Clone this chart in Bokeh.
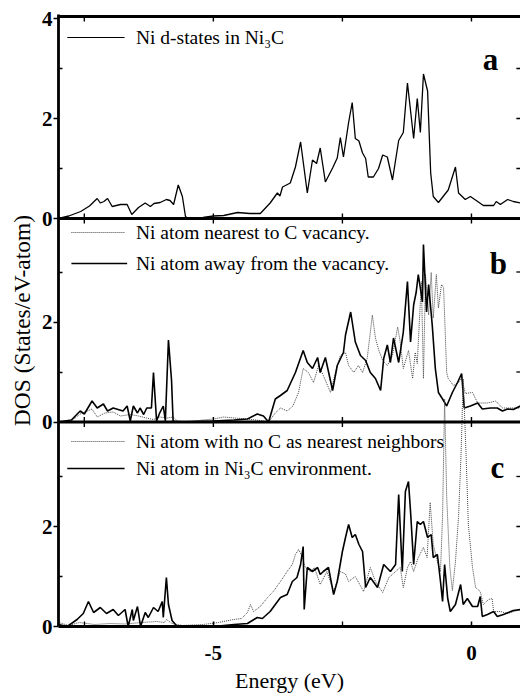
from bokeh.plotting import figure
from bokeh.models import Range1d, FixedTicker
from bokeh.embed import file_html
from bokeh.resources import INLINE
from bokeh.core.properties import value

# ---------------- data (Energy in eV, DOS in States/eV-atom) ----------------
energy_a = [-8.00, -7.80, -7.57, -7.40, -7.25, -7.19, -7.12, -7.05, -6.96, -6.80, -6.67, -6.58,
            -6.45, -6.32, -6.22, -6.15, -6.03, -5.91, -5.84, -5.77, -5.68, -5.60, -5.54, -5.50,
            -5.20, -5.00, -4.80, -4.53, -4.30, -4.09, -3.90, -3.76, -3.71, -3.66, -3.51, -3.41,
            -3.31, -3.18, -3.08, -3.00, -2.93, -2.83, -2.69, -2.60, -2.54, -2.48, -2.38, -2.31,
            -2.25, -2.18, -2.11, -2.05, -2.00, -1.90, -1.80, -1.72, -1.63, -1.53, -1.41, -1.32,
            -1.24, -1.12, -1.05, -0.99, -0.93, -0.85, -0.79, -0.74, -0.64, -0.45, -0.31, -0.25,
            -0.12, -0.02, 0.12, 0.23, 0.43, 0.48, 0.56, 0.70, 0.81, 0.95, 1.00]
dos_a = [0.00, 0.05, 0.14, 0.25, 0.40, 0.31, 0.34, 0.40, 0.24, 0.28, 0.28, 0.08,
         0.22, 0.31, 0.24, 0.30, 0.32, 0.38, 0.36, 0.28, 0.67, 0.44, 0.04, 0.00,
         0.02, 0.05, 0.06, 0.12, 0.10, 0.10, 0.31, 0.51, 0.45, 0.63, 0.71, 1.03,
         1.53, 0.51, 1.17, 1.10, 1.41, 0.73, 1.01, 1.21, 1.62, 1.23, 1.92, 2.32,
         1.60, 1.55, 1.31, 1.20, 0.83, 0.83, 1.00, 1.27, 1.23, 0.77, 1.56, 1.72,
         2.71, 1.60, 2.40, 1.72, 2.89, 2.55, 0.91, 0.44, 0.32, 0.57, 1.03, 0.51,
         0.38, 0.44, 0.34, 0.26, 0.26, 0.34, 0.28, 0.38, 0.34, 0.31, 0.30]

energy_b_away = [-8.00, -7.75, -7.58, -7.50, -7.35, -7.25, -7.13, -7.05, -6.94, -6.75, -6.67, -6.61,
                 -6.55, -6.47, -6.42, -6.35, -6.29, -6.20, -6.16, -6.10, -6.04, -5.97, -5.93, -5.87,
                 -5.81, -5.78, -5.70, -5.00, -4.60, -4.34, -4.15, -4.03, -3.93, -3.80, -3.70, -3.57,
                 -3.41, -3.26, -3.18, -3.08, -2.98, -2.93, -2.83, -2.69, -2.60, -2.48, -2.44, -2.34,
                 -2.25, -2.15, -2.05, -1.96, -1.86, -1.76, -1.70, -1.63, -1.57, -1.51, -1.41, -1.32,
                 -1.24, -1.18, -1.12, -1.07, -1.03, -0.95, -0.93, -0.87, -0.83, -0.76, -0.70, -0.64,
                 -0.56, -0.48, -0.37, -0.27, -0.19, -0.14, -0.02, 0.12, 0.21, 0.37, 0.50, 0.60,
                 0.70, 0.81, 0.95, 1.00]
dos_b_away = [0.00, 0.04, 0.22, 0.16, 0.42, 0.28, 0.36, 0.22, 0.28, 0.22, 0.32, 0.02,
              0.32, 0.18, 0.28, 0.15, 0.28, 0.28, 0.99, 0.02, 0.18, 0.32, 0.02, 1.64,
              0.83, 0.02, 0.00, 0.02, 0.04, 0.06, 0.16, 0.12, 0.00, 0.46, 0.53, 0.63,
              0.99, 1.43, 1.19, 1.07, 1.29, 0.99, 1.29, 0.63, 1.13, 1.39, 1.74, 2.20,
              1.60, 1.33, 1.23, 0.99, 0.87, 0.63, 1.27, 1.54, 1.19, 1.68, 1.19, 1.80,
              2.81, 1.60, 2.34, 2.60, 2.95, 2.40, 3.55, 2.20, 2.75, 1.94, 1.07, 0.59,
              0.46, 0.32, 0.59, 0.79, 0.97, 0.28, 0.32, 0.38, 0.26, 0.28, 0.28, 0.22,
              0.26, 0.25, 0.32, 0.30]

energy_b_near = [-8.00, -7.75, -7.58, -7.35, -7.25, -7.10, -6.94, -6.80, -6.61, -6.45, -6.30, -6.16,
                 -6.04, -5.89, -5.78, -5.70, -5.50, -5.20, -4.99, -4.80, -4.60, -4.34, -4.10, -3.93,
                 -3.80, -3.70, -3.57, -3.46, -3.35, -3.26, -3.16, -3.06, -2.96, -2.87, -2.73, -2.60,
                 -2.54, -2.44, -2.38, -2.28, -2.19, -2.11, -2.02, -1.92, -1.86, -1.80, -1.72, -1.63,
                 -1.53, -1.43, -1.38, -1.32, -1.22, -1.14, -1.09, -1.05, -0.97, -0.93, -0.89, -0.83,
                 -0.78, -0.74, -0.68, -0.64, -0.58, -0.54, -0.48, -0.45, -0.35, -0.25, -0.19, -0.12,
                 0.02, 0.12, 0.31, 0.47, 0.60, 0.95, 1.00]
dos_b_near = [0.00, 0.02, 0.16, 0.26, 0.10, 0.18, 0.20, 0.12, 0.15, 0.12, 0.08, 0.05,
              0.10, 0.08, 0.10, 0.02, 0.00, 0.04, 0.06, 0.10, 0.08, 0.06, 0.03, 0.00,
              0.18, 0.28, 0.22, 0.32, 0.59, 1.07, 0.99, 0.79, 1.13, 0.93, 0.59, 1.13,
              1.33, 1.39, 1.13, 0.99, 1.13, 0.99, 1.27, 2.14, 1.68, 1.45, 1.23, 1.13,
              1.33, 1.90, 1.60, 1.07, 1.43, 0.87, 1.39, 1.17, 2.81, 0.87, 2.95, 2.14,
              2.99, 2.08, 2.95, 2.28, 2.75, 2.69, 0.99, 0.87, 0.73, 0.79, 0.89, 0.57,
              0.59, 0.38, 0.38, 0.42, 0.28, 0.28, 0.28]

energy_c_ni3c = [-8.00, -7.83, -7.64, -7.52, -7.42, -7.32, -7.19, -7.07, -6.94, -6.84, -6.71, -6.65,
                 -6.57, -6.55, -6.47, -6.41, -6.32, -6.26, -6.16, -6.07, -5.99, -5.97, -5.91, -5.87,
                 -5.80, -5.70, -5.00, -4.60, -4.34, -4.15, -4.05, -3.90, -3.70, -3.57, -3.47, -3.38,
                 -3.31, -3.26, -3.24, -3.18, -3.08, -2.98, -2.93, -2.87, -2.77, -2.67, -2.60, -2.50,
                 -2.44, -2.38, -2.31, -2.25, -2.18, -2.11, -2.05, -1.96, -1.82, -1.70, -1.57, -1.47,
                 -1.41, -1.34, -1.28, -1.22, -1.18, -1.12, -1.05, -0.99, -0.93, -0.85, -0.78, -0.74,
                 -0.66, -0.60, -0.56, -0.52, -0.46, -0.41, -0.31, -0.21, -0.16, -0.08, 0.02, 0.12,
                 0.17, 0.21, 0.31, 0.43, 0.50, 0.62, 0.81, 0.95, 1.00]
dos_c_ni3c = [0.04, 0.00, 0.14, 0.26, 0.50, 0.28, 0.38, 0.26, 0.34, 0.22, 0.34, 0.00,
              0.34, 0.12, 0.40, 0.00, 0.28, 0.18, 0.38, 0.30, 0.50, 0.18, 0.98, 0.44,
              0.12, 0.00, 0.00, 0.04, 0.06, 0.18, 0.16, 0.30, 0.58, 0.64, 0.90, 0.98,
              1.24, 1.60, 0.34, 1.18, 1.10, 1.18, 1.04, 1.10, 1.18, 0.64, 0.90, 1.50,
              1.78, 2.04, 1.78, 1.84, 1.64, 1.50, 0.78, 0.98, 0.78, 1.24, 1.10, 1.24,
              2.64, 1.10, 2.70, 2.90, 2.30, 1.24, 2.10, 2.04, 2.10, 1.78, 1.84, 1.38,
              1.44, 0.90, 0.50, 1.24, 0.56, 0.30, 0.44, 0.84, 0.44, 0.56, 0.40, 0.40,
              0.60, 0.20, 0.24, 0.30, 0.20, 0.24, 0.32, 0.34, 0.34]

energy_c_noC = [-8.00, -7.80, -7.60, -7.30, -7.00, -6.70, -6.40, -6.10, -5.95, -5.91, -5.80, -5.60,
                -5.20, -4.90, -4.61, -4.45, -4.34, -4.28, -4.22, -4.09, -3.95, -3.84, -3.70, -3.57,
                -3.47, -3.41, -3.35, -3.28, -3.22, -3.12, -3.04, -2.93, -2.80, -2.67, -2.54, -2.44,
                -2.38, -2.25, -2.09, -1.96, -1.86, -1.72, -1.60, -1.47, -1.38, -1.32, -1.24, -1.18,
                -1.12, -1.03, -0.93, -0.86, -0.80, -0.74, -0.66, -0.60, -0.56, -0.52, -0.48, -0.42,
                -0.37, -0.31, -0.25, -0.20, -0.16, -0.11, -0.06, 0.02, 0.08, 0.17, 0.23, 0.33,
                0.40, 0.43, 0.56, 0.70, 0.95, 1.00]
dos_c_noC = [0.08, 0.02, 0.08, 0.04, 0.06, 0.05, 0.08, 0.10, 0.08, 0.14, 0.06, 0.02,
             0.04, 0.08, 0.14, 0.16, 0.28, 0.44, 0.30, 0.40, 0.58, 0.70, 0.90, 1.10,
             1.24, 1.44, 1.54, 1.40, 1.18, 1.10, 1.18, 0.84, 1.10, 0.70, 1.10, 1.05,
             0.90, 1.00, 0.70, 1.18, 0.90, 0.68, 0.98, 1.10, 1.18, 0.78, 1.18, 1.30,
             1.10, 1.38, 1.58, 1.38, 2.48, 1.64, 1.30, 1.10, 2.20, 4.55, 2.60, 1.20,
             0.72, 1.30, 2.20, 3.50, 4.95, 3.60, 2.04, 1.18, 0.78, 0.70, 0.44, 0.54,
             0.56, 0.30, 0.30, 0.26, 0.34, 0.34]

panel_offsets = {"a": 8.16, "b": 4.09, "c": 0.0}
y_tick_values = [0, 2, 4]
x_tick_values = [-5, 0]
x_minor_values = [-7.5, -2.5]

legend_a = ["Ni d-states in Ni\u2083C"]
legend_b = ["Ni atom nearest to C vacancy.", "Ni atom away from the vacancy."]
legend_c = ["Ni atom with no C as nearest neighbors", "Ni atom in Ni\u2083C environment."]
panel_letters = ["a", "b", "c"]

# ---------------- figure ----------------
FONT = "Liberation Serif"
X0, X1 = -8.0, 0.95
Y_TOP = 12.24

p = figure(frame_width=462, frame_height=612,
           x_range=Range1d(X0, X1), y_range=Range1d(0, Y_TOP),
           output_backend="svg", toolbar_location=None,
           min_border_left=58, min_border_right=0, min_border_top=14, min_border_bottom=72)
p.outline_line_color = None
p.grid.visible = False
p.background_fill_color = "white"

oa, ob, oc = panel_offsets["a"], panel_offsets["b"], panel_offsets["c"]

def shift(vals, off):
    return [v + off for v in vals]

DOT = "#444444"
# panel a
p.line(energy_a, shift(dos_a, oa), line_color="black", line_width=1.3)
# panel b
p.line(energy_b_near, shift(dos_b_near, ob), line_color=DOT, line_width=1.0, line_dash="1 1")
p.line(energy_b_away, shift(dos_b_away, ob), line_color="black", line_width=1.6)
# panel c
p.line(energy_c_noC, shift(dos_c_noC, oc), line_color=DOT, line_width=1.0, line_dash="1 1")
p.line(energy_c_ni3c, shift(dos_c_ni3c, oc), line_color="black", line_width=1.6)

# panel separators and top border
p.segment(x0=[X0] * 3, x1=[X1] * 3, y0=[ob, oa, Y_TOP - 0.04], y1=[ob, oa, Y_TOP - 0.04],
          line_color="black", line_width=2.8)

# small x ticks on panel borders
xt = x_tick_values + x_minor_values
tx0, ty0, ty1 = [], [], []
for yb in [Y_TOP - 0.04, oa, ob]:
    for x in xt:
        tx0.append(x); ty0.append(yb); ty1.append(yb - 0.1)
for yb in [oa, ob]:
    for x in xt:
        tx0.append(x); ty0.append(yb); ty1.append(yb + 0.1)
p.segment(x0=tx0, x1=tx0, y0=ty0, y1=ty1, line_color="black", line_width=1.4)

# right edge inward ticks
rx0, rx1, ry = [], [], []
for off in [oa, ob, oc]:
    for v in [1, 2, 3]:
        rx0.append(X1 - 0.08); rx1.append(X1); ry.append(off + v)
p.segment(x0=rx0, x1=rx1, y0=ry, y1=ry, line_color="black", line_width=1.3)

# legends (line samples + text)
lx0, lx1 = -7.83, -6.72
p.segment(x0=[lx0], x1=[lx1], y0=[oa + 3.62], y1=[oa + 3.62], line_color="black", line_width=1.2)
p.segment(x0=[lx0 + 0.08, lx0 + 0.08], x1=[lx1, lx1], y0=[ob + 3.79, oc + 3.70],
          y1=[ob + 3.79, oc + 3.70], line_color=DOT, line_width=1.0, line_dash="1 1")
p.segment(x0=[lx0 + 0.08, lx0], x1=[lx1 + 0.05, lx1], y0=[ob + 3.17, oc + 3.16],
          y1=[ob + 3.17, oc + 3.16], line_color="black", line_width=1.6)

tx = -6.50
p.text(x=[tx, tx, tx, tx, tx],
       y=[oa + 3.62, ob + 3.79, ob + 3.17, oc + 3.70, oc + 3.16],
       text=legend_a + legend_b + legend_c,
       text_font=value(FONT), text_font_size="19.5px", text_color="black",
       text_baseline="middle", text_align="left")

p.text(x=[0.37, 0.52, 0.50], y=[oa + 3.18, ob + 3.17, oc + 3.18], text=panel_letters,
       text_font=value(FONT), text_font_size="31px", text_font_style="bold",
       text_color="black", text_baseline="middle", text_align="center")

# ---------------- axes ----------------
yt, ylabels, yminor = [], {}, []
for off in [oc, ob, oa]:
    for v in y_tick_values:
        if v == 4 and off != oa:
            continue
        t = off + v
        yt.append(t)
        ylabels[t] = str(v)
    yminor += [off + 1, off + 3]

yax = p.yaxis[0]
yax.ticker = FixedTicker(ticks=yt, minor_ticks=yminor)
yax.major_label_overrides = ylabels
yax.axis_label = "DOS (States/eV-atom)"
yax.axis_label_text_font = FONT
yax.axis_label_text_font_size = "23.5px"
yax.axis_label_text_font_style = "normal"
yax.axis_label_text_color = "black"
yax.axis_label_standoff = 4
yax.major_label_text_font = FONT
yax.major_label_text_font_size = "21px"
yax.major_label_text_font_style = "bold"
yax.major_label_text_color = "black"
yax.major_label_standoff = 1
yax.major_tick_out = 5
yax.major_tick_in = 0
yax.minor_tick_in = 4
yax.minor_tick_out = 0
yax.axis_line_width = 2.8
yax.major_tick_line_width = 1.5
yax.minor_tick_line_width = 1.3

xax = p.xaxis[0]
xax.ticker = FixedTicker(ticks=x_tick_values, minor_ticks=x_minor_values)
xax.major_label_overrides = {t: str(t) for t in x_tick_values}
xax.axis_label = "Energy (eV)"
xax.axis_label_text_font = FONT
xax.axis_label_text_font_size = "22px"
xax.axis_label_text_font_style = "normal"
xax.axis_label_text_color = "black"
xax.axis_label_standoff = 5
xax.major_label_text_font = FONT
xax.major_label_text_font_size = "21px"
xax.major_label_text_font_style = "bold"
xax.major_label_text_color = "black"
xax.major_label_standoff = 19
xax.major_tick_out = 0
xax.major_tick_in = 5
xax.minor_tick_in = 5
xax.minor_tick_out = 0
xax.axis_line_width = 2.8
xax.major_tick_line_width = 1.5
xax.minor_tick_line_width = 1.3

open("out.html", "w").write(file_html(p, INLINE))
